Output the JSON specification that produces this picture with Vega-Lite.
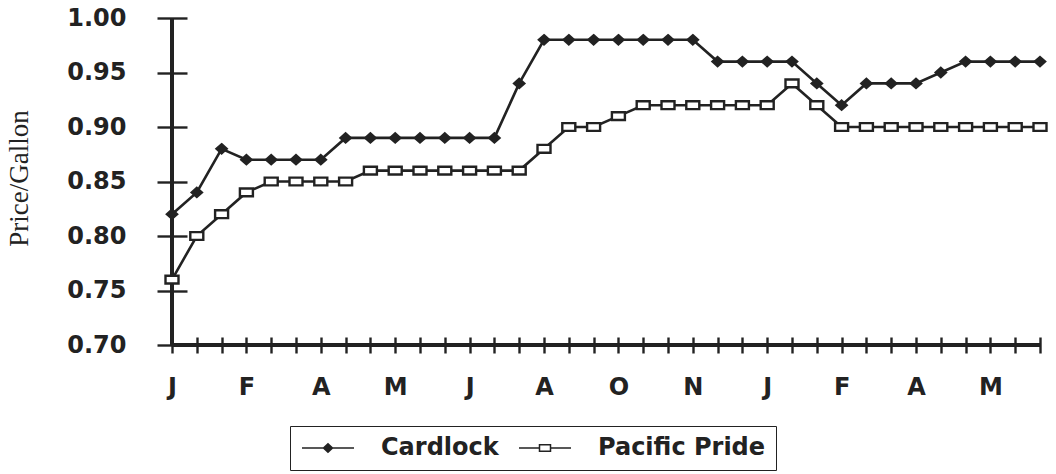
{
  "$schema": "https://vega.github.io/schema/vega-lite/v6.json",
  "width": 868,
  "height": 327,
  "autosize": {"type": "none"},
  "padding": {"left": 172, "top": 18, "right": 16, "bottom": 129},
  "background": "white",
  "config": {"view": {"stroke": null}},
  "data": {
    "values": [
      {"half_month": 0, "series": "Cardlock", "price": 0.82},
      {"half_month": 1, "series": "Cardlock", "price": 0.84},
      {"half_month": 2, "series": "Cardlock", "price": 0.88},
      {"half_month": 3, "series": "Cardlock", "price": 0.87},
      {"half_month": 4, "series": "Cardlock", "price": 0.87},
      {"half_month": 5, "series": "Cardlock", "price": 0.87},
      {"half_month": 6, "series": "Cardlock", "price": 0.87},
      {"half_month": 7, "series": "Cardlock", "price": 0.89},
      {"half_month": 8, "series": "Cardlock", "price": 0.89},
      {"half_month": 9, "series": "Cardlock", "price": 0.89},
      {"half_month": 10, "series": "Cardlock", "price": 0.89},
      {"half_month": 11, "series": "Cardlock", "price": 0.89},
      {"half_month": 12, "series": "Cardlock", "price": 0.89},
      {"half_month": 13, "series": "Cardlock", "price": 0.89},
      {"half_month": 14, "series": "Cardlock", "price": 0.94},
      {"half_month": 15, "series": "Cardlock", "price": 0.98},
      {"half_month": 16, "series": "Cardlock", "price": 0.98},
      {"half_month": 17, "series": "Cardlock", "price": 0.98},
      {"half_month": 18, "series": "Cardlock", "price": 0.98},
      {"half_month": 19, "series": "Cardlock", "price": 0.98},
      {"half_month": 20, "series": "Cardlock", "price": 0.98},
      {"half_month": 21, "series": "Cardlock", "price": 0.98},
      {"half_month": 22, "series": "Cardlock", "price": 0.96},
      {"half_month": 23, "series": "Cardlock", "price": 0.96},
      {"half_month": 24, "series": "Cardlock", "price": 0.96},
      {"half_month": 25, "series": "Cardlock", "price": 0.96},
      {"half_month": 26, "series": "Cardlock", "price": 0.94},
      {"half_month": 27, "series": "Cardlock", "price": 0.92},
      {"half_month": 28, "series": "Cardlock", "price": 0.94},
      {"half_month": 29, "series": "Cardlock", "price": 0.94},
      {"half_month": 30, "series": "Cardlock", "price": 0.94},
      {"half_month": 31, "series": "Cardlock", "price": 0.95},
      {"half_month": 32, "series": "Cardlock", "price": 0.96},
      {"half_month": 33, "series": "Cardlock", "price": 0.96},
      {"half_month": 34, "series": "Cardlock", "price": 0.96},
      {"half_month": 35, "series": "Cardlock", "price": 0.96},
      {"half_month": 0, "series": "Pacific Pride", "price": 0.76},
      {"half_month": 1, "series": "Pacific Pride", "price": 0.80},
      {"half_month": 2, "series": "Pacific Pride", "price": 0.82},
      {"half_month": 3, "series": "Pacific Pride", "price": 0.84},
      {"half_month": 4, "series": "Pacific Pride", "price": 0.85},
      {"half_month": 5, "series": "Pacific Pride", "price": 0.85},
      {"half_month": 6, "series": "Pacific Pride", "price": 0.85},
      {"half_month": 7, "series": "Pacific Pride", "price": 0.85},
      {"half_month": 8, "series": "Pacific Pride", "price": 0.86},
      {"half_month": 9, "series": "Pacific Pride", "price": 0.86},
      {"half_month": 10, "series": "Pacific Pride", "price": 0.86},
      {"half_month": 11, "series": "Pacific Pride", "price": 0.86},
      {"half_month": 12, "series": "Pacific Pride", "price": 0.86},
      {"half_month": 13, "series": "Pacific Pride", "price": 0.86},
      {"half_month": 14, "series": "Pacific Pride", "price": 0.86},
      {"half_month": 15, "series": "Pacific Pride", "price": 0.88},
      {"half_month": 16, "series": "Pacific Pride", "price": 0.90},
      {"half_month": 17, "series": "Pacific Pride", "price": 0.90},
      {"half_month": 18, "series": "Pacific Pride", "price": 0.91},
      {"half_month": 19, "series": "Pacific Pride", "price": 0.92},
      {"half_month": 20, "series": "Pacific Pride", "price": 0.92},
      {"half_month": 21, "series": "Pacific Pride", "price": 0.92},
      {"half_month": 22, "series": "Pacific Pride", "price": 0.92},
      {"half_month": 23, "series": "Pacific Pride", "price": 0.92},
      {"half_month": 24, "series": "Pacific Pride", "price": 0.92},
      {"half_month": 25, "series": "Pacific Pride", "price": 0.94},
      {"half_month": 26, "series": "Pacific Pride", "price": 0.92},
      {"half_month": 27, "series": "Pacific Pride", "price": 0.90},
      {"half_month": 28, "series": "Pacific Pride", "price": 0.90},
      {"half_month": 29, "series": "Pacific Pride", "price": 0.90},
      {"half_month": 30, "series": "Pacific Pride", "price": 0.90},
      {"half_month": 31, "series": "Pacific Pride", "price": 0.90},
      {"half_month": 32, "series": "Pacific Pride", "price": 0.90},
      {"half_month": 33, "series": "Pacific Pride", "price": 0.90},
      {"half_month": 34, "series": "Pacific Pride", "price": 0.90},
      {"half_month": 35, "series": "Pacific Pride", "price": 0.90}
    ]
  },
  "encoding": {
    "x": {
      "field": "half_month", "type": "quantitative",
      "scale": {"domain": [0, 35], "nice": false, "zero": false},
      "axis": {
        "orient": "bottom", "title": null, "grid": false, "domain": false, "offset": -8,
        "values": [0,1,2,3,4,5,6,7,8,9,10,11,12,13,14,15,16,17,18,19,20,21,22,23,24,25,26,27,28,29,30,31,32,33,34,35],
        "labelExpr": "datum.value % 3 == 0 ? ['J','F','A','M','J','A','O','N','J','F','A','M'][datum.value / 3] : ''",
        "labelFont": "DejaVu Sans", "labelFontWeight": "bold", "labelFontSize": 24,
        "labelColor": "#222", "labelPadding": 22, "labelOverlap": false, "labelFlush": false,
        "tickSize": 16, "tickWidth": 2.4, "tickColor": "#222"
      }
    },
    "y": {
      "field": "price", "type": "quantitative",
      "scale": {"domain": [0.70, 1.00], "nice": false, "zero": false},
      "axis": {
        "orient": "left", "title": "Price/Gallon", "grid": false, "domain": false, "offset": -15,
        "values": [0.70, 0.75, 0.80, 0.85, 0.90, 0.95, 1.00], "format": ".2f",
        "labelFont": "DejaVu Sans", "labelFontWeight": "bold", "labelFontSize": 24,
        "labelColor": "#222", "labelPadding": 31,
        "tickSize": 30, "tickWidth": 2.4, "tickColor": "#222",
        "titleFont": "Liberation Serif", "titleFontWeight": "normal", "titleFontSize": 27,
        "titleColor": "#222", "titleX": -160, "titleY": 160, "titleAngle": -90,
        "titleAlign": "center", "titleBaseline": "alphabetic"
      }
    }
  },
  "layer": [
    {
      "mark": {"type": "rule", "stroke": "#222", "strokeWidth": 2.6},
      "encoding": {"x": {"datum": 0}, "y": null}
    },
    {
      "mark": {"type": "rule", "stroke": "#222", "strokeWidth": 2.6},
      "encoding": {"y": {"datum": 0.7}, "x": null}
    },
    {
      "mark": {"type": "line", "stroke": "#222", "strokeWidth": 2.6},
      "encoding": {
        "detail": {"field": "series"}
      }
    },
    {
      "mark": {"type": "point", "filled": false, "stroke": "#222", "strokeWidth": 2.4, "size": 169, "opacity": 1},
      "encoding": {
        "shape": {
          "field": "series", "type": "nominal",
          "scale": {"domain": ["Cardlock", "Pacific Pride"], "range": ["M0,-0.7L0.78,0L0,0.7L-0.78,0Z", "M-1,-0.6H1V0.6H-1Z"]},
          "legend": null
        },
        "fill": {
          "field": "series", "type": "nominal",
          "scale": {"domain": ["Cardlock", "Pacific Pride"], "range": ["#222", "white"]},
          "legend": null
        }
      }
    },
    {
      "mark": {"type": "point", "filled": false, "stroke": "#222", "strokeWidth": 2.4, "size": 400, "opacity": 0},
      "encoding": {
        "shape": {
          "field": "series", "type": "nominal",
          "scale": {"domain": ["Cardlock", "Pacific Pride"], "range": ["M-2.6,0H2.6M0,-0.42L0.45,0L0,0.42L-0.45,0ZM0,-0.27L0.29,0L0,0.27L-0.29,0ZM0,-0.12L0.13,0L0,0.12L-0.13,0Z", "M-2.6,0H-0.55M0.55,0H2.6M-0.55,-0.32H0.55V0.32H-0.55Z"]},
          "legend": {
            "title": null, "orient": "none", "legendX": 118, "legendY": 408, "direction": "horizontal",
            "labelFont": "DejaVu Sans", "labelFontWeight": "bold", "labelFontSize": 24, "labelColor": "#222",
            "labelLimit": 400, "symbolOpacity": 1,
            "strokeColor": "#222", "padding": 10, "fillColor": "white",
            "symbolSize": 400, "symbolOffset": 16, "labelOffset": 41, "columnPadding": 17,
            "encode": {
              "legend": {"strokeWidth": {"value": 2.5}},
              "symbols": {
                "size": {"value": 400},
                "stroke": {"value": "#222"},
                "strokeWidth": {"value": 2.4},
                "opacity": {"value": 1}
              }
            }
          }
        }
      }
    }
  ],
  "resolve": {"scale": {"shape": "independent"}}
}
